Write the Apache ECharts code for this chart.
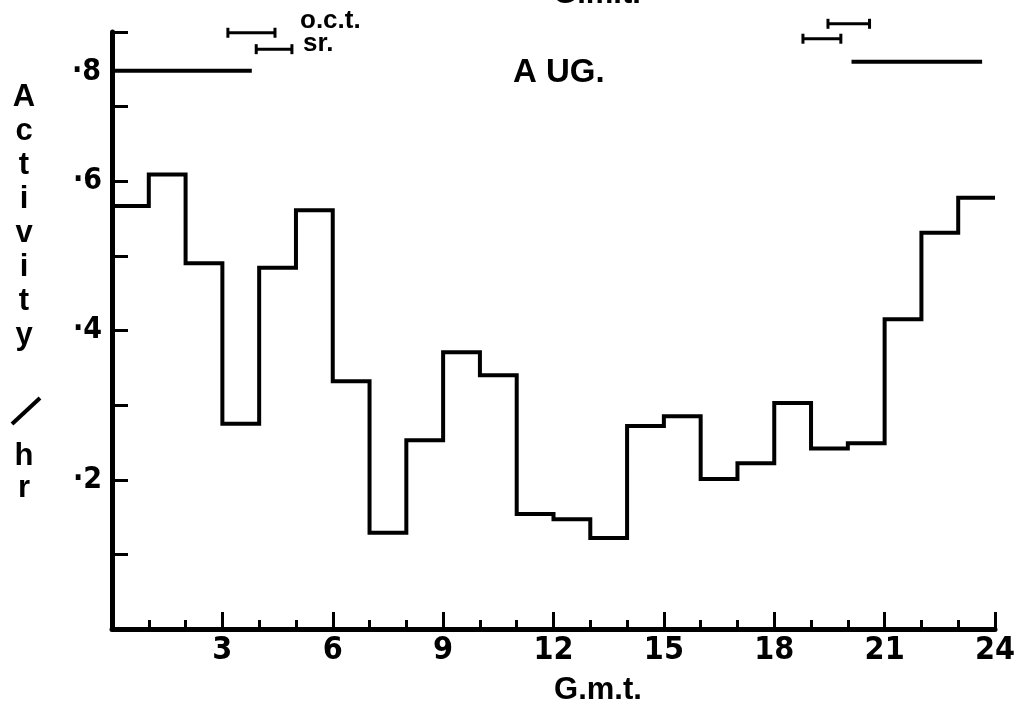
<!DOCTYPE html>
<html>
<head>
<meta charset="utf-8">
<script src="https://cdn.jsdelivr.net/npm/echarts@6/dist/echarts.min.js"></script>
<style>
  html, body { margin: 0; padding: 0; background: #fff; }
  #chart { width: 1024px; height: 713px; }
</style>
</head>
<body>
<div id="chart"></div>
<script>
// hourly activity, August (G.m.t. hour 0..23)
const hours = [0, 1, 2, 3, 4, 5, 6, 7, 8, 9, 10, 11, 12, 13, 14, 15, 16, 17, 18, 19, 20, 21, 22, 23]
const activity = [0.567, 0.609, 0.490, 0.275, 0.484, 0.561, 0.332, 0.129, 0.253, 0.371, 0.340, 0.154,
  0.147, 0.122, 0.272, 0.285, 0.201, 0.222, 0.303, 0.242, 0.249, 0.415, 0.531, 0.578]
const yTickLabels = { '0.2': '·2', '0.4': '·4', '0.6': '·6' }

// darkness bars and twilight ranges [start hour, end hour, level]
const darkBars = [[0, 3.8, 0.748], [20.1, 23.65, 0.760]]
const octRanges = [[3.15, 4.43, 0.799], [19.46, 20.59, 0.811]]
const srRanges = [[3.92, 4.89, 0.777], [18.78, 19.81, 0.791]]

const font = '"Liberation Sans", Arial, sans-serif'
const narrow = '"Liberation Sans Narrow", "DejaVu Sans Condensed", sans-serif'

const stepData = hours.map((h, i) => [h, activity[i]])
stepData.push([24, activity[activity.length - 1]])

const chart = echarts.init(document.getElementById('chart'), null, { renderer: 'canvas' })

const series = [{
  type: 'line',
  step: 'end',
  data: stepData,
  symbol: 'none',
  clip: false,
  lineStyle: { color: '#000', width: 4, join: 'miter' },
  animation: false
}]

darkBars.forEach(b => {
  series.push({
    type: 'line',
    data: [[b[0], b[2]], [b[1], b[2]]],
    symbol: 'none',
    clip: false,
    lineStyle: { color: '#000', width: 4 },
    animation: false
  })
})

octRanges.concat(srRanges).forEach(r => {
  series.push({
    type: 'line',
    data: [[r[0], r[2]], [r[1], r[2]]],
    symbol: 'rect',
    symbolSize: [3, 10],
    itemStyle: { color: '#000' },
    clip: false,
    lineStyle: { color: '#000', width: 3 },
    animation: false
  })
})

chart.setOption({
  backgroundColor: '#fff',
  animation: false,
  grid: { left: 112, right: 29, top: 32, bottom: 84 },
  xAxis: {
    type: 'value',
    min: 0,
    max: 24,
    interval: 3,
    axisLine: { show: true, onZero: false, lineStyle: { color: '#000', width: 5 } },
    axisTick: { show: true, inside: true, length: 17, lineStyle: { color: '#000', width: 3 } },
    minorTick: { show: true, splitNumber: 3, length: 9, lineStyle: { color: '#000', width: 3 } },
    splitLine: { show: false },
    axisLabel: {
      showMinLabel: false,
      margin: 6,
      color: '#000',
      fontFamily: narrow,
      fontWeight: 'bold',
      fontSize: 32
    }
  },
  yAxis: {
    type: 'value',
    min: 0,
    max: 0.8,
    interval: 0.1,
    axisLine: { show: true, onZero: false, lineStyle: { color: '#000', width: 5 } },
    axisTick: { show: true, inside: true, length: 16, lineStyle: { color: '#000', width: 3 } },
    splitLine: { show: false },
    axisLabel: {
      margin: 10,
      color: '#000',
      fontFamily: narrow,
      fontWeight: 'bold',
      fontSize: 30,
      formatter: v => yTickLabels[v.toFixed(1)] || ''
    }
  },
  graphic: [
    { type: 'text', x: 101, y: 72, style: { text: '·8', fill: '#000', font: 'bold 30px ' + narrow, textAlign: 'right', textVerticalAlign: 'middle' } },
    { type: 'text', x: 513, y: 73, style: { text: 'A UG.', fill: '#000', font: 'bold 33px ' + font, textAlign: 'left', textVerticalAlign: 'middle' } },
    { type: 'text', x: 300, y: 21, style: { text: 'o.c.t.', fill: '#000', font: 'bold 26px ' + font, textAlign: 'left', textVerticalAlign: 'middle' } },
    { type: 'text', x: 303, y: 44, style: { text: 'sr.', fill: '#000', font: 'bold 26px ' + font, textAlign: 'left', textVerticalAlign: 'middle' } },
    { type: 'text', x: 597, y: -6, style: { text: 'G.m.t.', fill: '#000', font: 'bold 31px ' + font, textAlign: 'center', textVerticalAlign: 'middle' } },
    { type: 'text', x: 598, y: 690, style: { text: 'G.m.t.', fill: '#000', font: 'bold 31px ' + font, textAlign: 'center', textVerticalAlign: 'middle' } },
    { type: 'text', x: 24, y: 80, style: { text: 'A\nc\nt\ni\nv\ni\nt\ny', fill: '#000', font: 'bold 31px ' + font, lineHeight: 34, textAlign: 'center', textVerticalAlign: 'top' } },
    { type: 'line', shape: { x1: 12, y1: 424, x2: 40, y2: 398 }, style: { stroke: '#000', lineWidth: 4 } },
    { type: 'text', x: 24, y: 440, style: { text: 'h\nr', fill: '#000', font: 'bold 31px ' + font, lineHeight: 32, textAlign: 'center', textVerticalAlign: 'top' } }
  ],
  series: series
})
</script>
</body>
</html>
